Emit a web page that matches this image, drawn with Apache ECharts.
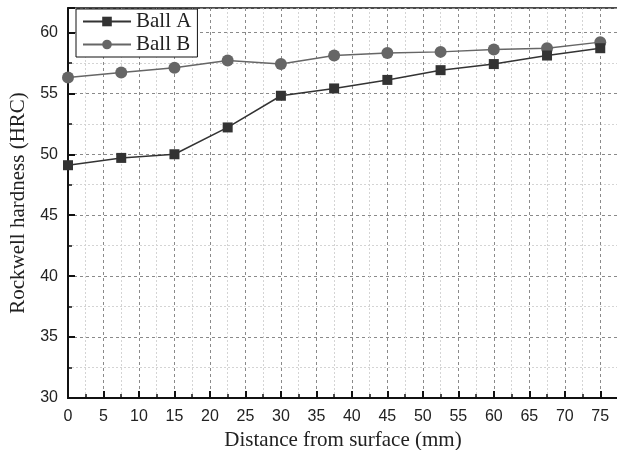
<!DOCTYPE html>
<html>
<head>
<meta charset="utf-8">
<script src="https://cdn.jsdelivr.net/npm/echarts@6/dist/echarts.min.js"></script>
<style>
  html, body { margin: 0; padding: 0; background: #fff; }
  #chart { width: 617px; height: 450px; }
</style>
</head>
<body>
<div id="chart"></div>
<script>
// distance from surface (mm)
var distance = [0, 7.5, 15, 22.5, 30, 37.5, 45, 52.5, 60, 67.5, 75];
// hardness values
var ballA = [49.1, 49.7, 50.0, 52.2, 54.8, 55.4, 56.1, 56.9, 57.4, 58.1, 58.7];
var ballB = [56.3, 56.7, 57.1, 57.7, 57.4, 58.1, 58.3, 58.4, 58.6, 58.7, 59.2];

function pairs(xs, ys) {
  return xs.map(function (x, i) { return [x, ys[i]]; });
}

var chart = echarts.init(document.getElementById('chart'));

var serif = '"Liberation Serif", "Times New Roman", serif';
var sans = '"Liberation Sans", Arial, sans-serif';

var axisCommon = {
  type: 'value',
  interval: 5,
  nameLocation: 'middle',
  nameTextStyle: { fontFamily: serif, fontSize: 21, color: '#222' },
  axisLine: { show: true, onZero: false, lineStyle: { color: '#111', width: 2 } },
  axisTick: { show: true, inside: true, length: 7, lineStyle: { color: '#111', width: 2 } },
  minorTick: { show: true, splitNumber: 2, length: 4, lineStyle: { color: '#111', width: 1.5 } },
  axisLabel: { fontFamily: sans, fontSize: 16, color: '#222' },
  splitLine: { show: true, lineStyle: { color: '#8a8a8a', type: [3, 3], width: 1 } },
  minorSplitLine: { show: true, lineStyle: { color: '#d4d4d4', type: [2, 2], width: 1 } }
};

var options = {
  animation: false,
  backgroundColor: '#fff',
  grid: {
    left: 68, top: 8, width: 550, height: 390,
    outerBoundsMode: 'none',
    containLabel: false,
    show: true, borderColor: '#111', borderWidth: 1.5
  },
  legend: {
    orient: 'vertical',
    left: 76, top: 9,
    padding: [2, 6, 2, 6],
    itemGap: 2,
    itemWidth: 48,
    itemHeight: 12,
    borderColor: '#111',
    borderWidth: 1,
    backgroundColor: '#fff',
    textStyle: { fontFamily: serif, fontSize: 21, lineHeight: 20, color: '#222' },
    data: ['Ball A', 'Ball B']
  },
  xAxis: Object.assign({}, axisCommon, {
    min: 0, max: 77.5,
    name: 'Distance from surface (mm)',
    nameGap: 32,
    axisLabel: Object.assign({}, axisCommon.axisLabel, { margin: 11, showMaxLabel: false })
  }),
  yAxis: Object.assign({}, axisCommon, {
    min: 30, max: 62,
    name: 'Rockwell hardness (HRC)',
    nameGap: 34,
    axisLabel: Object.assign({}, axisCommon.axisLabel, { margin: 10, showMaxLabel: false })
  }),
  series: [
    {
      name: 'Ball B',
      type: 'line',
      data: pairs(distance, ballB),
      symbol: 'circle',
      symbolSize: 12,
      itemStyle: { color: '#666' },
      lineStyle: { color: '#666', width: 1.5 },
      z: 2
    },
    {
      name: 'Ball A',
      type: 'line',
      data: pairs(distance, ballA),
      symbol: 'rect',
      symbolSize: 10,
      itemStyle: { color: '#333' },
      lineStyle: { color: '#333', width: 1.5 },
      z: 3
    }
  ]
};

chart.setOption(options);
</script>
</body>
</html>
